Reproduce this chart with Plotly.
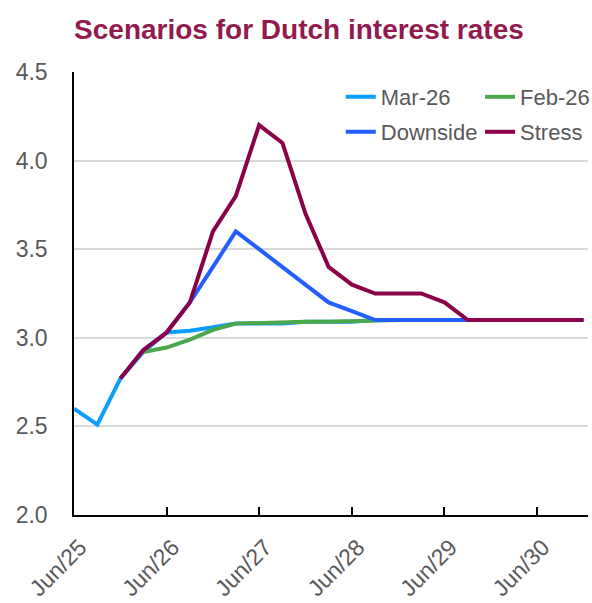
import plotly.graph_objects as go

# ---- data (quarterly, Jun/25 .. Dec/30) ----
dates = ["2025-06-01", "2025-09-01", "2025-12-01",
         "2026-03-01", "2026-06-01", "2026-09-01", "2026-12-01",
         "2027-03-01", "2027-06-01", "2027-09-01", "2027-12-01",
         "2028-03-01", "2028-06-01", "2028-09-01", "2028-12-01",
         "2029-03-01", "2029-06-01", "2029-09-01", "2029-12-01",
         "2030-03-01", "2030-06-01", "2030-09-01", "2030-12-01"]

mar26 = [2.60, 2.51, 2.77, 2.92, 3.03, 3.04, 3.06, 3.08, 3.08, 3.08, 3.09, 3.09,
         3.09, 3.10, 3.10, 3.10, 3.10, 3.10, 3.10, 3.10, 3.10, 3.10, 3.10]
feb26 = [None, None, None, 2.92, 2.945, 2.99, 3.045, 3.08, 3.085, 3.085, 3.09, 3.09,
         3.095, 3.10, 3.10, 3.10, 3.10, 3.10, 3.10, 3.10, 3.10, 3.10, 3.10]
downside = [None, None, 2.77, 2.93, 3.03, 3.20, 3.40, 3.60, 3.50, 3.40, 3.30, 3.20,
            3.15, 3.10, 3.10, 3.10, 3.10, 3.10, 3.10, 3.10, 3.10, 3.10, 3.10]
stress = [None, None, 2.77, 2.93, 3.03, 3.20, 3.60, 3.80, 4.20, 4.10, 3.70, 3.40,
          3.30, 3.25, 3.25, 3.25, 3.20, 3.10, 3.10, 3.10, 3.10, 3.10, 3.10]

tick_dates = ["2025-06-01", "2026-06-01", "2027-06-01", "2028-06-01", "2029-06-01", "2030-06-01"]
tick_labels = ["Jun/25", "Jun/26", "Jun/27", "Jun/28", "Jun/29", "Jun/30"]
y_ticks = [2.0, 2.5, 3.0, 3.5, 4.0, 4.5]

series = [
    ("Mar-26", mar26, "#0A9FFF", "legend"),
    ("Feb-26", feb26, "#4BA74B", "legend2"),
    ("Downside", downside, "#235FFF", "legend3"),
    ("Stress", stress, "#8A0049", "legend4"),
]

FONT = "Arial, Liberation Sans, sans-serif"
GRAY = "#595959"

fig = go.Figure()
for name, vals, color, leg in series:
    fig.add_trace(go.Scatter(x=dates, y=vals, name=name, mode="lines",
                             line=dict(color=color, width=4),
                             legend=leg, connectgaps=False, showlegend=True))

plot_top, plot_bottom = 72, 515
ph = plot_bottom - plot_top

def ly(py):
    return 1 - (py - plot_top) / ph

legend_common = dict(font=dict(family=FONT, size=22, color=GRAY),
                     bgcolor="rgba(0,0,0,0)", borderwidth=0,
                     xanchor="left", yanchor="middle", itemclick=False,
                     visible=True)

fig.update_layout(
    width=592, height=603, showlegend=True,
    margin=dict(l=74, r=4, t=plot_top, b=603 - plot_bottom, autoexpand=False),
    paper_bgcolor="white", plot_bgcolor="white",
    title=dict(text="Scenarios for Dutch interest rates",
               font=dict(family=FONT, size=28, color="#931A4E", weight="bold"),
               x=0.505, xanchor="center", xref="container",
               y=1 - 29 / 603, yanchor="middle"),
    legend=dict(x=0.519, y=ly(97), **legend_common),
    legend2=dict(x=0.79, y=ly(97), **legend_common),
    legend3=dict(x=0.519, y=ly(132), **legend_common),
    legend4=dict(x=0.79, y=ly(132), **legend_common),
    xaxis=dict(type="date", range=["2025-06-01", "2030-12-19"],
               tickvals=tick_dates, ticktext=tick_labels, tickangle=-45,
               ticks="inside", ticklen=8, tickcolor="black", tickwidth=1.5,
               showline=True, linecolor="black", linewidth=1.5,
               showgrid=False, zeroline=False, automargin=False,
               ticklabelstandoff=8, ticklabelshift=6,
               tickfont=dict(family=FONT, size=23, color=GRAY)),
    yaxis=dict(range=[2.0, 4.5], tickvals=y_ticks, tickformat=".1f",
               showline=True, linecolor="black", linewidth=1.5,
               showgrid=True, gridcolor="#D9D9D9", gridwidth=1.5,
               zeroline=False, ticks="", ticklabelstandoff=20, automargin=False,
               tickfont=dict(family=FONT, size=23, color=GRAY)),
)

fig.write_html("out.html")
